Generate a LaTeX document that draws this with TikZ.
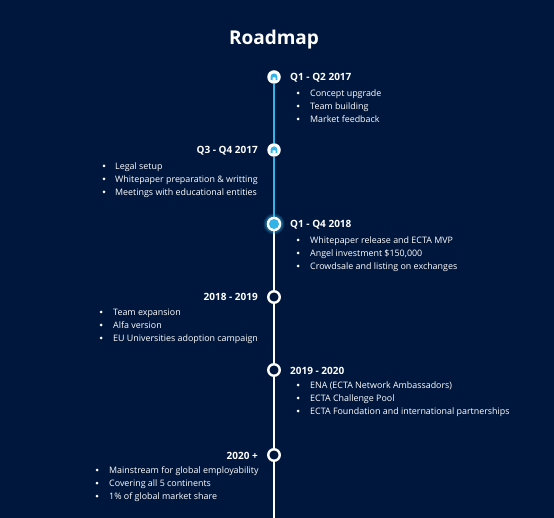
\documentclass[tikz,border=0pt]{standalone}
\usepackage{fontspec}
\setmainfont{Open Sans}
\definecolor{bgnavy}{RGB}{0,23,61}
\definecolor{lineCyan}{RGB}{52,180,230}
\begin{document}
\begin{tikzpicture}[x=1pt,y=-1pt,
  titletext/.style={text=white,font=\fontsize{19}{22}\selectfont\bfseries,inner sep=0pt,anchor=base},
  headtext/.style={text=white,font=\fontsize{10}{12}\selectfont\bfseries,inner sep=0pt},
  itemtext/.style={text=white,font=\fontsize{8.9}{11}\selectfont,inner sep=0pt,anchor=base west},
  dotmark/.style={circle,fill=white,inner sep=0pt,minimum size=3pt},
  ringmark/.style={circle,draw=white,line width=2.4pt,fill=bgnavy,inner sep=0pt,minimum size=11.5pt},
  iconmark/.style={circle,fill=white,inner sep=0pt,minimum size=13.5pt},
]
\useasboundingbox (0,0) rectangle (554,518);
\fill[bgnavy] (0,0) rectangle (554,518);

% timeline nodes
\node[iconmark] (c1) at (274,77) {};
\node[iconmark] (c2) at (274,150) {};
\coordinate (c3) at (274,224);
\node[ringmark] (c4) at (274,297) {};
\node[ringmark] (c5) at (274,370) {};
\node[ringmark] (c6) at (274,455) {};
\coordinate (bottom) at (274,518);

% line
\draw[lineCyan,line width=1.6pt] (c1.south) -- (c2.north);
\draw[lineCyan,line width=1.6pt] (c2.south) -- (c3);
\draw[white,line width=1.6pt] (c3) -- (c4.north);
\draw[white,line width=1.6pt] (c4.south) -- (c5.north);
\draw[white,line width=1.6pt] (c5.south) -- (c6.north);
\draw[white,line width=1.6pt] (c6.south) -- (bottom);

% icons (arch glyph)
\foreach \n in {c1,c2}{
  \fill[lineCyan,even odd rule] ([shift={(-3.4,3.2)}]\n.center) -- ++(0,-3.4) arc[start angle=180,end angle=360,radius=3.4] -- ++(0,3.4) -- cycle
    ([shift={(-1.5,3.2)}]\n.center) rectangle ([shift={(1.5,0.3)}]\n.center);
}
% highlighted node
\fill[lineCyan,opacity=0.18] (c3) circle[radius=10.5];
\fill[lineCyan,opacity=0.3] (c3) circle[radius=9];
\fill[white] (c3) circle[radius=7.3];
\fill[lineCyan] (c3) circle[radius=5];

% title
\node[titletext] (title) at (274,45) {Roadmap};

% entry 1 (right)
\node[headtext,anchor=base west] (h1) at (290,81) {Q1 - Q2 2017};
\foreach \t [count=\i] in {Concept upgrade,Team building,Market feedback}{
  \node[dotmark] (d1\i) at (298,{93+13*(\i-1)}) {};
  \node[itemtext] (i1\i) at (310,{96.5+13*(\i-1)}) {\t};
}
% entry 2 (left)
\node[headtext,anchor=base east] (h2) at (258,154) {Q3 - Q4 2017};
\foreach \t [count=\i] in {Legal setup,Whitepaper preparation \& writting,Meetings with educational entities}{
  \node[dotmark] (d2\i) at (104,{166+13*(\i-1)}) {};
  \node[itemtext] (i2\i) at (115,{169.5+13*(\i-1)}) {\t};
}
% entry 3 (right)
\node[headtext,anchor=base west] (h3) at (290,228) {Q1 - Q4 2018};
\foreach \t [count=\i] in {Whitepaper release and ECTA MVP,Angel investment \$150{,}000,Crowdsale and listing on exchanges}{
  \node[dotmark] (d3\i) at (298,{240+13*(\i-1)}) {};
  \node[itemtext] (i3\i) at (310,{243.5+13*(\i-1)}) {\t};
}
% entry 4 (left)
\node[headtext,anchor=base east] (h4) at (258,301) {2018 - 2019};
\foreach \t [count=\i] in {Team expansion,Alfa version,EU Universities adoption campaign}{
  \node[dotmark] (d4\i) at (101,{312+13*(\i-1)}) {};
  \node[itemtext] (i4\i) at (113,{315.5+13*(\i-1)}) {\t};
}
% entry 5 (right)
\node[headtext,anchor=base west] (h5) at (290,374) {2019 - 2020};
\foreach \t [count=\i] in {ENA (ECTA Network Ambassadors),ECTA Challenge Pool,ECTA Foundation and international partnerships}{
  \node[dotmark] (d5\i) at (298,{385+13*(\i-1)}) {};
  \node[itemtext] (i5\i) at (310,{388.5+13*(\i-1)}) {\t};
}
% entry 6 (left)
\node[headtext,anchor=base east] (h6) at (258,459) {2020 +};
\foreach \t [count=\i] in {Mainstream for global employability,Covering all 5 continents,1\% of global market share}{
  \node[dotmark] (d6\i) at (97,{470+13*(\i-1)}) {};
  \node[itemtext] (i6\i) at (109,{473.5+13*(\i-1)}) {\t};
}
\end{tikzpicture}
\end{document}
